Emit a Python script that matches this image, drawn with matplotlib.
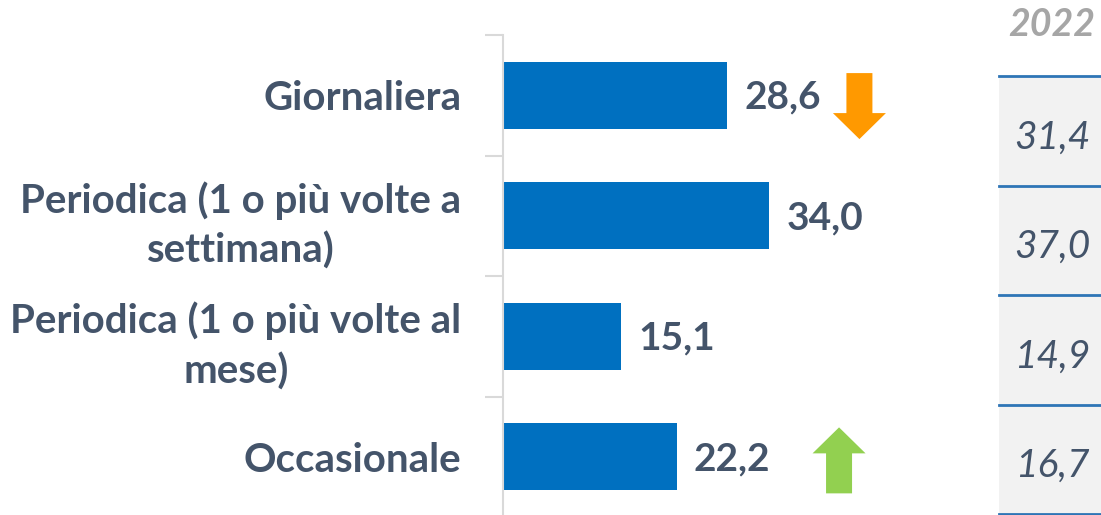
import matplotlib
matplotlib.use("Agg")
import matplotlib.pyplot as plt
import matplotlib.transforms as mtransforms
from matplotlib.patches import Polygon

plt.rcParams["font.family"] = ["Lato", "DejaVu Sans"]

CATEGORIES = [
    "Giornaliera",
    "Periodica (1 o più volte a\nsettimana)",
    "Periodica (1 o più volte al\nmese)",
    "Occasionale",
]
VALUES_2023 = [28.6, 34.0, 15.1, 22.2]
VALUES_2022 = [31.4, 37.0, 14.9, 16.7]
TREND = ["down", None, None, "up"]
HEADER = "2022"

W, H, DPI = 1101, 515, 100
BAR_COLOR = "#0070C0"
TEXT_COLOR = "#44546A"
GRID_GREY = "#D9D9D9"
ARROW_STYLE = {"down": ("#FF9900", 45.5, 0.09), "up": ("#92D050", 42.9, 0.03)}


def fmt(v):
    return f"{v:.1f}".replace(".", ",")


def draw_arrow(fig, ax, x, y, direction, color):
    # arrow built in pixels around an anchor given in data coords
    hw, sw, total, head = 53, 26, 66, 26
    pts = [(-sw / 2, total / 2), (sw / 2, total / 2), (sw / 2, -total / 2 + head),
           (hw / 2, -total / 2 + head), (0, -total / 2), (-hw / 2, -total / 2 + head),
           (-sw / 2, -total / 2 + head)]
    if direction == "up":
        pts = [(px, -py) for px, py in pts]
    pts = [(px / DPI, py / DPI) for px, py in pts]
    trans = fig.dpi_scale_trans + mtransforms.ScaledTranslation(x, y, ax.transData)
    ax.add_patch(Polygon(pts, closed=True, facecolor=color, edgecolor="none",
                         transform=trans, clip_on=False))


fig = plt.figure(figsize=(W / DPI, H / DPI), dpi=DPI)

# main bar chart
ax = fig.add_axes([503 / W, (H - 517) / H, 470 / W, 482 / H])
ypos = list(range(len(CATEGORIES)))
ax.barh(ypos, VALUES_2023, height=0.555, color=BAR_COLOR, zorder=2)
ax.set_xlim(0, 60)
ax.set_ylim(3.5, -0.5)
ax.set_xticks([])
ax.set_yticks(ypos)
ax.set_yticklabels(CATEGORIES, fontsize=29, fontweight="bold", color=TEXT_COLOR,
                   multialignment="center", linespacing=1.4)
ax.tick_params(axis="y", which="major", length=0, pad=30)
ax.set_yticks([-0.5, 0.5, 1.5, 2.5, 3.5], minor=True)
ax.tick_params(axis="y", which="minor", length=13, width=1.5, color=GRID_GREY)
for s in ["top", "right", "bottom"]:
    ax.spines[s].set_visible(False)
ax.spines["left"].set_color(GRID_GREY)
ax.spines["left"].set_linewidth(1.5)
ax.set_facecolor("none")

for i, v in enumerate(VALUES_2023):
    ax.annotate(fmt(v), (v, i), xytext=(17, -2), textcoords="offset pixels",
                ha="left", va="center", fontsize=28, fontweight="bold",
                color=TEXT_COLOR)
    if TREND[i]:
        color, ax_x, dy = ARROW_STYLE[TREND[i]]
        draw_arrow(fig, ax, ax_x, i + dy, TREND[i], color)

# comparison column
tx = fig.add_axes([999 / W, (H - 514) / H, 102 / W, 438 / H])
tx.set_facecolor("#F2F2F2")
tx.set_xlim(0, 1)
tx.set_ylim(len(VALUES_2022), 0)
tx.set_xticks([])
tx.set_yticks([])
for s in tx.spines.values():
    s.set_visible(False)
for k in range(len(VALUES_2022) + 1):
    tx.axhline(k, color="#2E75B6", lw=2, clip_on=False)
for i, v in enumerate(VALUES_2022):
    tx.text(0.52, i + 0.56, fmt(v), ha="center", va="center", fontsize=28,
            fontstyle="italic", color=TEXT_COLOR)

fig.text(1052 / W, 1 - 25 / H, HEADER, ha="center", va="center", fontsize=27,
         fontweight="bold", fontstyle="italic", color="#A6A6A6")

fig.savefig("out.png", dpi=DPI)
